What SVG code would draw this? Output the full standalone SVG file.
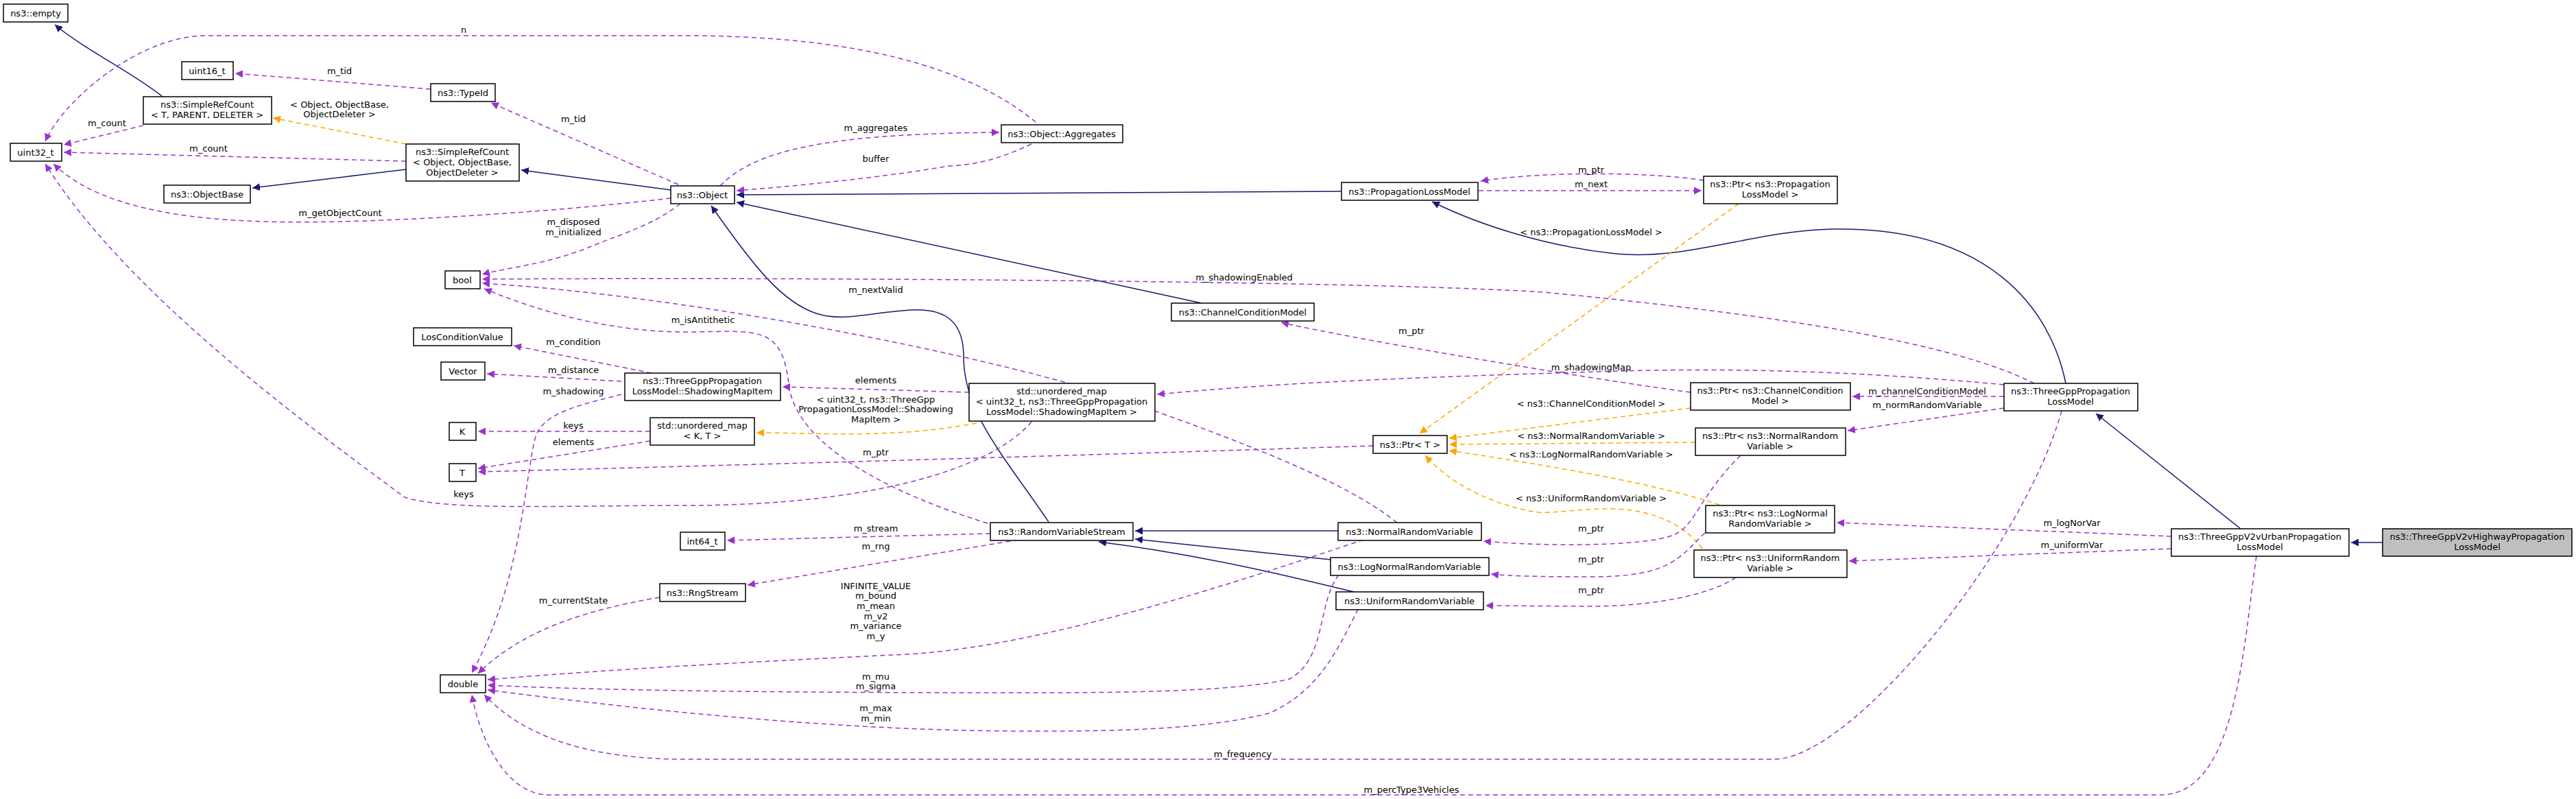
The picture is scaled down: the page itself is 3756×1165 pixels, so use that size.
<svg xmlns="http://www.w3.org/2000/svg" width="3756" height="1165" viewBox="0 0 3756 1165">
<defs>
<marker id="ap" viewBox="0 0 10 10" refX="10" refY="5" markerWidth="11" markerHeight="11" markerUnits="userSpaceOnUse" orient="auto"><path d="M0,0L10,5L0,10z" fill="#9a32cd"/></marker>
<marker id="an" viewBox="0 0 10 10" refX="10" refY="5" markerWidth="11" markerHeight="11" markerUnits="userSpaceOnUse" orient="auto"><path d="M0,0L10,5L0,10z" fill="#191970"/></marker>
<marker id="ao" viewBox="0 0 10 10" refX="10" refY="5" markerWidth="11" markerHeight="11" markerUnits="userSpaceOnUse" orient="auto"><path d="M0,0L10,5L0,10z" fill="#ffa500"/></marker>
</defs>
<style>
rect{fill:#fff;stroke:#000;stroke-width:1.5}
text{font-family:"DejaVu Sans",sans-serif;font-size:13px;fill:#000;text-anchor:middle}
.p{fill:none;stroke:#9a32cd;stroke-width:1.5;stroke-dasharray:7,5;marker-end:url(#ap)}
.o{fill:none;stroke:#ffa500;stroke-width:1.5;stroke-dasharray:7,5;marker-end:url(#ao)}
.n{fill:none;stroke:#191970;stroke-width:1.5;marker-end:url(#an)}
</style>
<rect x="0" y="0" width="3756" height="1165" style="fill:#fff;stroke:none"/>
<g id="connectors">
<path class="n" d="M237,141 C200,110 120,70 80,36"/>
<path class="n" d="M592,247 L368,274"/>
<path class="n" d="M978,277 L760,248"/>
<path class="n" d="M1955,279 L1074,284"/>
<path class="n" d="M1752,442 L1074,295"/>
<path class="n" d="M1529,761 C1460,660 1405,600 1405,520 C1405,470 1380,450 1330,452 C1270,455 1230,470 1190,457 C1140,440 1100,390 1037,300"/>
<path class="n" d="M1951,774 L1655,774"/>
<path class="n" d="M1940,816 L1655,786"/>
<path class="n" d="M1974,863 C1900,845 1760,810 1602,790"/>
<path class="n" d="M3012,559 C2990,450 2900,330 2672,334 C2560,336 2460,380 2356,370 C2260,360 2160,330 2088,294"/>
<path class="n" d="M3267,771 L3056,603"/>
<path class="n" d="M3474,791 L3428,791"/>
<path class="o" d="M592,210 L398,172"/>
<path class="o" d="M1424,617 C1300,640 1200,631 1103,631"/>
<path class="o" d="M2535,297 L2070,632"/>
<path class="o" d="M2465,595 L2113,639"/>
<path class="o" d="M2472,645 L2113,648"/>
<path class="o" d="M2507,736 C2400,700 2200,670 2113,657"/>
<path class="o" d="M2482,800 C2460,770 2420,745 2356,742 C2300,740 2260,752 2230,745 C2160,730 2110,700 2078,664"/>
<path class="p" d="M1510,178 C1440,120 1300,52 1000,52 L300,52 C200,52 90,150 66,206"/>
<path class="p" d="M628,130 L343,107"/>
<path class="p" d="M989,269 L716,150"/>
<path class="p" d="M209,183 L93,211"/>
<path class="p" d="M592,235 L93,222"/>
<path class="p" d="M978,289 C800,310 500,330 360,322 C200,315 120,280 78,239"/>
<path class="p" d="M1504,615 C1440,690 1250,737 1000,737 C820,737 650,745 590,725 C420,600 180,420 66,239"/>
<path class="p" d="M992,297 C950,330 900,343 860,360 C800,385 740,390 703,400"/>
<path class="p" d="M2966,559 C2850,500 2600,460 2251,426 C2000,410 1200,404 703,407"/>
<path class="p" d="M2037,762 C1960,700 1800,640 1638,583 C1450,520 1000,430 703,413"/>
<path class="p" d="M1440,763 C1300,720 1160,650 1150,560 C1140,470 1100,484 1000,484 C900,484 800,460 706,421"/>
<path class="p" d="M1050,271 C1100,220 1200,195 1457,193"/>
<path class="p" d="M1504,210 C1450,235 1420,240 1383,242 C1280,260 1150,272 1074,278"/>
<path class="p" d="M950,544 L749,504"/>
<path class="p" d="M906,556 L710,545"/>
<path class="p" d="M906,575 C850,590 790,600 780,640 C765,700 760,850 688,981"/>
<path class="p" d="M948,629 L697,629"/>
<path class="p" d="M948,643 L697,683"/>
<path class="p" d="M2002,650 C1700,660 1200,675 697,688"/>
<path class="p" d="M1413,572 L1141,564"/>
<path class="p" d="M2922,561 C2700,540 2500,535 2300,543 C2000,552 1850,560 1687,575"/>
<path class="p" d="M1444,778 L1060,788"/>
<path class="p" d="M1485,787 L1090,853"/>
<path class="p" d="M962,871 C850,890 760,920 697,982"/>
<path class="p" d="M1988,787 C1800,850 1500,950 1300,955 C1100,965 900,975 711,991"/>
<path class="p" d="M1952,838 C1920,880 1935,960 1880,990 C1800,1010 1600,1010 1500,1010 C1200,1010 900,1008 711,999"/>
<path class="p" d="M1980,888 C1950,950 1920,1010 1850,1040 C1750,1066 1600,1066 1500,1066 C1200,1066 900,1030 711,1006"/>
<path class="p" d="M3006,599 C2950,800 2700,1107 2587,1107 L1000,1107 C850,1107 760,1070 706,1013"/>
<path class="p" d="M3290,811 C3270,950 3260,1159 3150,1159 L800,1159 C740,1159 700,1080 688,1013"/>
<path class="p" d="M2484,263 C2400,250 2250,250 2159,264"/>
<path class="p" d="M2156,278 L2481,278"/>
<path class="p" d="M2465,572 C2300,550 1950,490 1868,470"/>
<path class="p" d="M2922,578 L2701,578"/>
<path class="p" d="M2922,595 L2694,628"/>
<path class="p" d="M2538,664 C2480,720 2470,770 2440,780 C2400,797 2250,797 2163,789"/>
<path class="p" d="M2486,777 C2450,810 2440,841 2321,841 C2250,841 2200,840 2174,837"/>
<path class="p" d="M2531,842 C2490,870 2400,884 2321,884 L2166,883"/>
<path class="p" d="M3166,782 L2678,762"/>
<path class="p" d="M3166,800 L2696,818"/>
</g>
<g id="labels">
<text x="676" y="48">n</text>
<text x="495" y="108">m_tid</text>
<text x="495" y="157">&lt; Object, ObjectBase,</text>
<text x="495" y="171">ObjectDeleter &gt;</text>
<text x="836" y="178">m_tid</text>
<text x="156" y="184">m_count</text>
<text x="304" y="221">m_count</text>
<text x="496" y="315">m_getObjectCount</text>
<text x="836" y="328">m_disposed</text>
<text x="836" y="343">m_initialized</text>
<text x="1277" y="191">m_aggregates</text>
<text x="1277" y="236">buffer</text>
<text x="1814" y="409">m_shadowingEnabled</text>
<text x="1277" y="427">m_nextValid</text>
<text x="1025" y="471">m_isAntithetic</text>
<text x="836" y="503">m_condition</text>
<text x="836" y="544">m_distance</text>
<text x="836" y="575">m_shadowing</text>
<text x="836" y="625">keys</text>
<text x="836" y="649">elements</text>
<text x="676" y="725">keys</text>
<text x="1277" y="559">elements</text>
<text x="1277" y="587">&lt; uint32_t, ns3::ThreeGpp</text>
<text x="1277" y="601">PropagationLossModel::Shadowing</text>
<text x="1277" y="616">MapItem &gt;</text>
<text x="1277" y="664">m_ptr</text>
<text x="1277" y="775">m_stream</text>
<text x="1277" y="801">m_rng</text>
<text x="836" y="880">m_currentState</text>
<text x="1277" y="859">INFINITE_VALUE</text>
<text x="1277" y="873">m_bound</text>
<text x="1277" y="888">m_mean</text>
<text x="1277" y="903">m_v2</text>
<text x="1277" y="917">m_variance</text>
<text x="1277" y="932">m_y</text>
<text x="1277" y="991">m_mu</text>
<text x="1277" y="1005">m_sigma</text>
<text x="1277" y="1037">m_max</text>
<text x="1277" y="1052">m_min</text>
<text x="1812" y="1104">m_frequency</text>
<text x="2058" y="1156">m_percType3Vehicles</text>
<text x="2320" y="252">m_ptr</text>
<text x="2320" y="273">m_next</text>
<text x="2320" y="343">&lt; ns3::PropagationLossModel &gt;</text>
<text x="2058" y="487">m_ptr</text>
<text x="2320" y="540">m_shadowingMap</text>
<text x="2810" y="575">m_channelConditionModel</text>
<text x="2320" y="593">&lt; ns3::ChannelConditionModel &gt;</text>
<text x="2810" y="595">m_normRandomVariable</text>
<text x="2320" y="640">&lt; ns3::NormalRandomVariable &gt;</text>
<text x="2320" y="667">&lt; ns3::LogNormalRandomVariable &gt;</text>
<text x="2320" y="731">&lt; ns3::UniformRandomVariable &gt;</text>
<text x="2320" y="775">m_ptr</text>
<text x="2320" y="820">m_ptr</text>
<text x="2320" y="865">m_ptr</text>
<text x="3021" y="767">m_logNorVar</text>
<text x="3021" y="799">m_uniformVar</text>
</g>
<g id="n_empty"><rect x="5" y="6" width="94" height="26"/><text x="52" y="24">ns3::empty</text></g>
<g id="n_uint32"><rect x="15" y="209" width="75" height="26"/><text x="52" y="227">uint32_t</text></g>
<g id="n_uint16"><rect x="265" y="90" width="75" height="26"/><text x="302" y="108">uint16_t</text></g>
<g id="n_typeid"><rect x="628" y="122" width="94" height="26"/><text x="675" y="140">ns3::TypeId</text></g>
<g id="n_src_t"><rect x="209" y="141" width="187" height="40"/><text x="302" y="157">ns3::SimpleRefCount</text><text x="302" y="172">&lt; T, PARENT, DELETER &gt;</text></g>
<g id="n_src_obj"><rect x="592" y="210" width="165" height="54"/><text x="674" y="226">ns3::SimpleRefCount</text><text x="674" y="241">&lt; Object, ObjectBase,</text><text x="674" y="256">ObjectDeleter &gt;</text></g>
<g id="n_objectbase"><rect x="239" y="270" width="126" height="26"/><text x="302" y="288">ns3::ObjectBase</text></g>
<g id="n_bool"><rect x="649" y="395" width="51" height="26"/><text x="674" y="413">bool</text></g>
<g id="n_object"><rect x="978" y="271" width="93" height="26"/><text x="1024" y="289">ns3::Object</text></g>
<g id="n_aggregates"><rect x="1460" y="182" width="177" height="26"/><text x="1548" y="200">ns3::Object::Aggregates</text></g>
<g id="n_plm"><rect x="1956" y="266" width="199" height="26"/><text x="2055" y="284">ns3::PropagationLossModel</text></g>
<g id="n_ccm"><rect x="1708" y="442" width="208" height="26"/><text x="1812" y="460">ns3::ChannelConditionModel</text></g>
<g id="n_losc"><rect x="603" y="478" width="143" height="26"/><text x="674" y="496">LosConditionValue</text></g>
<g id="n_vector"><rect x="643" y="528" width="64" height="26"/><text x="675" y="546">Vector</text></g>
<g id="n_smi"><rect x="911" y="544" width="227" height="40"/><text x="1024" y="560">ns3::ThreeGppPropagation</text><text x="1024" y="575">LossModel::ShadowingMapItem</text></g>
<g id="n_umkt"><rect x="948" y="609" width="152" height="40"/><text x="1024" y="625">std::unordered_map</text><text x="1024" y="640">&lt; K, T &gt;</text></g>
<g id="n_k"><rect x="655" y="616" width="39" height="26"/><text x="674" y="634">K</text></g>
<g id="n_t"><rect x="655" y="676" width="39" height="26"/><text x="674" y="694">T</text></g>
<g id="n_um"><rect x="1413" y="559" width="271" height="55"/><text x="1548" y="575">std::unordered_map</text><text x="1548" y="590">&lt; uint32_t, ns3::ThreeGppPropagation</text><text x="1548" y="605">LossModel::ShadowingMapItem &gt;</text></g>
<g id="n_int64"><rect x="992" y="776" width="65" height="26"/><text x="1024" y="794">int64_t</text></g>
<g id="n_rng"><rect x="962" y="851" width="125" height="26"/><text x="1024" y="869">ns3::RngStream</text></g>
<g id="n_double"><rect x="642" y="984" width="66" height="26"/><text x="675" y="1002">double</text></g>
<g id="n_rvs"><rect x="1444" y="762" width="208" height="26"/><text x="1548" y="780">ns3::RandomVariableStream</text></g>
<g id="n_nrv"><rect x="1951" y="762" width="209" height="26"/><text x="2055" y="780">ns3::NormalRandomVariable</text></g>
<g id="n_lnrv"><rect x="1940" y="813" width="231" height="26"/><text x="2055" y="831">ns3::LogNormalRandomVariable</text></g>
<g id="n_urv"><rect x="1948" y="863" width="215" height="26"/><text x="2055" y="881">ns3::UniformRandomVariable</text></g>
<g id="n_ptr_plm"><rect x="2484" y="257" width="195" height="40"/><text x="2581" y="273">ns3::Ptr&lt; ns3::Propagation</text><text x="2581" y="288">LossModel &gt;</text></g>
<g id="n_ptr_t"><rect x="2002" y="635" width="108" height="26"/><text x="2056" y="653">ns3::Ptr&lt; T &gt;</text></g>
<g id="n_ptr_ccm"><rect x="2465" y="558" width="233" height="40"/><text x="2581" y="574">ns3::Ptr&lt; ns3::ChannelCondition</text><text x="2581" y="589">Model &gt;</text></g>
<g id="n_ptr_nrv"><rect x="2472" y="624" width="219" height="40"/><text x="2581" y="640">ns3::Ptr&lt; ns3::NormalRandom</text><text x="2581" y="655">Variable &gt;</text></g>
<g id="n_ptr_ln"><rect x="2487" y="737" width="188" height="40"/><text x="2581" y="753">ns3::Ptr&lt; ns3::LogNormal</text><text x="2581" y="768">RandomVariable &gt;</text></g>
<g id="n_ptr_uni"><rect x="2470" y="802" width="223" height="40"/><text x="2581" y="818">ns3::Ptr&lt; ns3::UniformRandom</text><text x="2581" y="833">Variable &gt;</text></g>
<g id="n_tgpplm"><rect x="2922" y="559" width="195" height="40"/><text x="3019" y="575">ns3::ThreeGppPropagation</text><text x="3019" y="590">LossModel</text></g>
<g id="n_urban"><rect x="3166" y="771" width="259" height="40"/><text x="3295" y="787">ns3::ThreeGppV2vUrbanPropagation</text><text x="3295" y="802">LossModel</text></g>
<g id="n_highway"><rect x="3474" y="771" width="276" height="40" style="fill:#bfbfbf"/><text x="3612" y="787">ns3::ThreeGppV2vHighwayPropagation</text><text x="3612" y="802">LossModel</text></g>
</svg>
